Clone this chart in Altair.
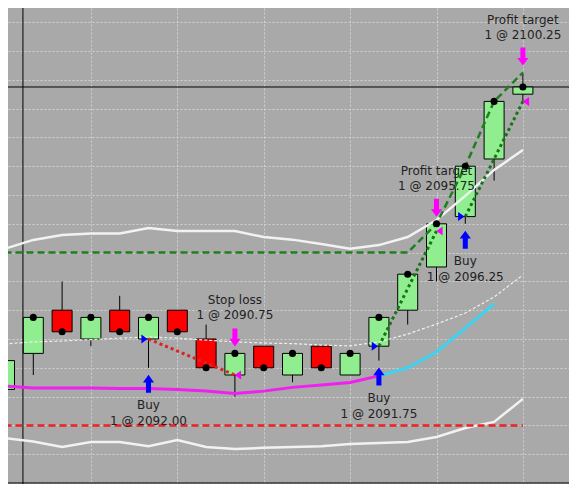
import altair as alt
import pandas as pd

# ---- candle data ----
idx = list(range(19))
opens = [2090.25, 2091.50, 2093.00, 2092.00, 2093.00, 2092.00, 2093.00, 2092.00, 2090.75, 2091.75,
         2090.75, 2091.75, 2090.75, 2091.75, 2093.00, 2094.50, 2096.25, 2098.25, 2100.50]
highs = [2091.25, 2092.75, 2094.00, 2092.75, 2093.50, 2092.75, 2093.00, 2092.50, 2091.50, 2091.75,
         2091.50, 2091.75, 2091.50, 2092.75, 2094.25, 2096.00, 2098.00, 2100.25, 2101.25]
lows = [2090.00, 2090.75, 2092.25, 2091.75, 2092.25, 2091.00, 2092.25, 2091.00, 2090.00, 2091.00,
        2090.50, 2091.00, 2090.75, 2091.25, 2092.50, 2094.00, 2096.00, 2097.50, 2100.25]
closes = [2091.25, 2092.75, 2092.25, 2092.75, 2092.25, 2092.75, 2092.25, 2091.00, 2091.50, 2091.00,
          2091.50, 2091.00, 2091.50, 2092.75, 2094.25, 2096.00, 2098.00, 2100.25, 2100.75]

# ---- indicators ----
upper = [2095.13, 2095.44, 2095.61, 2095.66, 2095.66, 2095.85, 2095.75, 2095.75, 2095.75, 2095.54,
         2095.45, 2095.30, 2095.13, 2095.26, 2095.54, 2096.13, 2096.97, 2097.87, 2098.56]
middle = [2091.83, 2091.90, 2091.93, 2091.98, 2092.03, 2092.07, 2092.03, 2091.96, 2091.90, 2091.86,
          2091.84, 2091.79, 2091.76, 2091.90, 2092.17, 2092.52, 2092.90, 2093.46, 2094.22]
lower = [2088.56, 2088.44, 2088.25, 2088.42, 2088.42, 2088.28, 2088.49, 2088.25, 2088.18, 2088.22,
         2088.25, 2088.28, 2088.35, 2088.39, 2088.42, 2088.60, 2088.91, 2089.12, 2089.92]
ma = [2090.37, 2090.30, 2090.30, 2090.30, 2090.28, 2090.28, 2090.25, 2090.19, 2090.11, 2090.19,
      2090.32, 2090.40, 2090.49, 2090.72, 2091.00, 2091.55, 2092.38, 2093.22]
ma_turn = 13
highest = [2095.00, 2095.00, 2095.00, 2095.00, 2095.00, 2095.00, 2095.00, 2095.00, 2095.00, 2095.00,
           2095.00, 2095.00, 2095.00, 2095.00, 2095.00, 2096.00, 2098.00, 2100.25, 2101.25]
stop_level = 2089.00
last_price = 2100.75
bottom_level = 2087.00
marker_x = 0.64

# ---- trades ----
entry_idx = [5, 13, 16]
entry_price = [2092.00, 2091.75, 2096.25]
exit_idx = [8, 15, 18]
exit_price = [2090.75, 2095.75, 2100.25]
exit_name = ["Stop loss", "Profit target", "Profit target"]
trade_result = ["loss", "win", "win"]

# ---- frames ----
candles = pd.DataFrame({"i": idx, "open": opens, "high": highs, "low": lows, "close": closes})
candles["dir"] = ["up" if c >= o else "down" for o, c in zip(opens, closes)]
ind = pd.DataFrame({"i": idx, "upper": upper, "middle": middle, "lower": lower, "hh": highest})
ma_df = pd.DataFrame({"i": idx[:len(ma)], "ma": ma})
ma_down = ma_df[ma_df["i"] <= ma_turn]
ma_up = ma_df[ma_df["i"] >= ma_turn]
entries = pd.DataFrame({
    "i": entry_idx, "p": entry_price,
    "low": [lows[i] for i in entry_idx],
    "t1": ["Buy"] * len(entry_idx),
    "t2": [f"1 @ {p:.2f}" for p in entry_price],
})
exits = pd.DataFrame({
    "i": exit_idx, "p": exit_price,
    "high": [highs[i] for i in exit_idx],
    "t1": exit_name,
    "t2": [f"1 @ {p:.2f}" for p in exit_price],
})
trades = pd.DataFrame({"i": entry_idx, "p": entry_price, "i2": exit_idx, "p2": exit_price,
                       "res": trade_result})
levels = pd.DataFrame({"i": [idx[0]], "i2": [idx[-1]], "p": [stop_level]})
hlines = pd.DataFrame({"p": [last_price, bottom_level]})
vlines = pd.DataFrame({"i": [marker_x]})

# ---- scales / axes ----
W, H = 561, 476
xs = alt.Scale(domain=[0.1215, 19.6007], nice=False, zero=False, padding=0)
ys = alt.Scale(domain=[2086.965, 2103.493], nice=False, zero=False, padding=0)
grid_style = dict(labels=False, ticks=False, domain=False, grid=True, title=None,
                  gridColor="#d6d6d6", gridDash=[2, 2], gridWidth=1, gridOpacity=0.9)
xa = alt.Axis(values=[0, 3, 6, 9, 12, 15, 18], **grid_style)
ya = alt.Axis(values=list(range(2087, 2104)), **grid_style)


def X(f):
    return alt.X(f"{f}:Q", scale=xs, axis=xa)


def Y(f):
    return alt.Y(f"{f}:Q", scale=ys, axis=ya)


# ---- layers ----
hrule = alt.Chart(hlines).mark_rule(color="black", strokeWidth=1).encode(y=Y("p"))
vrule = alt.Chart(vlines).mark_rule(color="black", strokeWidth=1).encode(x=X("i"))

wicks = alt.Chart(candles).mark_rule(color="black", strokeWidth=1).encode(
    x=X("i"), y=Y("low"), y2=alt.Y2("high"))
bodies = alt.Chart(candles).mark_bar(size=20, stroke="black", strokeWidth=1).encode(
    x=X("i"), y=Y("open"), y2=alt.Y2("close"),
    color=alt.Color("dir:N", scale=alt.Scale(domain=["up", "down"], range=["#90ee90", "#ff0000"]),
                    legend=None))

base_ind = alt.Chart(ind)
up_line = base_ind.mark_line(color="#f2f2f2", strokeWidth=2.5).encode(x=X("i"), y=Y("upper"))
lo_line = base_ind.mark_line(color="#f2f2f2", strokeWidth=2.5).encode(x=X("i"), y=Y("lower"))
mid_line = base_ind.mark_line(color="#f0f0f0", strokeWidth=1.2, strokeDash=[3, 2]).encode(
    x=X("i"), y=Y("middle"))
hh_line = base_ind.mark_line(color="#1f7f1f", strokeWidth=2.5, strokeDash=[7, 4]).encode(
    x=X("i"), y=Y("hh"))
stop_line = alt.Chart(levels).mark_rule(color="#ee2020", strokeWidth=2.5, strokeDash=[7, 4]).encode(
    x=X("i"), x2=alt.X2("i2"), y=Y("p"))
ma_mag = alt.Chart(ma_down).mark_line(color="#f020f0", strokeWidth=3).encode(x=X("i"), y=Y("ma"))
ma_cyan = alt.Chart(ma_up).mark_line(color="#3cd4f2", strokeWidth=3).encode(x=X("i"), y=Y("ma"))

trade_lines = alt.Chart(trades).mark_rule(strokeWidth=3, strokeDash=[3, 3]).encode(
    x=X("i"), y=Y("p"), x2=alt.X2("i2"), y2=alt.Y2("p2"),
    color=alt.Color("res:N", scale=alt.Scale(domain=["loss", "win"], range=["#dd2222", "#157515"]),
                    legend=None))

dots = alt.Chart(candles).mark_circle(color="black", size=50, opacity=1).encode(
    x=X("i"), y=Y("close"))

up_arrow = "M0,-1L0.62,-0.15L0.28,-0.15L0.28,1L-0.28,1L-0.28,-0.15L-0.62,-0.15Z"
down_arrow = "M0,1L0.62,0.15L0.28,0.15L0.28,-1L-0.28,-1L-0.28,0.15L-0.62,0.15Z"
tri_right = "M-0.7,-1L0.7,0L-0.7,1Z"
tri_left = "M0.7,-1L-0.7,0L0.7,1Z"

buy_arrows = alt.Chart(entries).mark_point(shape=up_arrow, size=324, filled=True, color="#0000ff",
                                           opacity=1, strokeWidth=0, yOffset=16).encode(
    x=X("i"), y=Y("low"))
sell_arrows = alt.Chart(exits).mark_point(shape=down_arrow, size=324, filled=True, color="#ff00ff",
                                          opacity=1, strokeWidth=0, yOffset=-16).encode(
    x=X("i"), y=Y("high"))
buy_tri = alt.Chart(entries).mark_point(shape=tri_right, size=81, filled=True, color="#0000ff",
                                        opacity=1, strokeWidth=0, xOffset=-4).encode(
    x=X("i"), y=Y("p"))
sell_tri = alt.Chart(exits).mark_point(shape=tri_left, size=81, filled=True, color="#ff00ff",
                                       opacity=1, strokeWidth=0, xOffset=3).encode(
    x=X("i"), y=Y("p"))

txt = dict(font="DejaVu Sans", fontSize=12, color="#222222", align="center", baseline="middle")
buy_t1 = alt.Chart(entries).mark_text(dy=37.5, **txt).encode(x=X("i"), y=Y("low"), text="t1:N")
buy_t2 = alt.Chart(entries).mark_text(dy=53, **txt).encode(x=X("i"), y=Y("low"), text="t2:N")
sell_t1 = alt.Chart(exits).mark_text(dy=-53, **txt).encode(x=X("i"), y=Y("high"), text="t1:N")
sell_t2 = alt.Chart(exits).mark_text(dy=-38, **txt).encode(x=X("i"), y=Y("high"), text="t2:N")

chart = alt.layer(
    hrule, vrule, wicks, bodies,
    up_line, lo_line, mid_line, stop_line, hh_line, ma_mag, ma_cyan,
    trade_lines, dots, buy_tri, sell_tri, buy_arrows, sell_arrows,
    buy_t1, buy_t2, sell_t1, sell_t2,
).resolve_scale(color="independent").properties(
    width=W, height=H,
    autosize=alt.AutoSizeParams(type="none"),
    padding=0,
    background="#a9a9a9",
).configure_view(stroke="transparent", fill="#a9a9a9")

chart.save("out.html", embed_options={"renderer": "svg", "actions": False})
